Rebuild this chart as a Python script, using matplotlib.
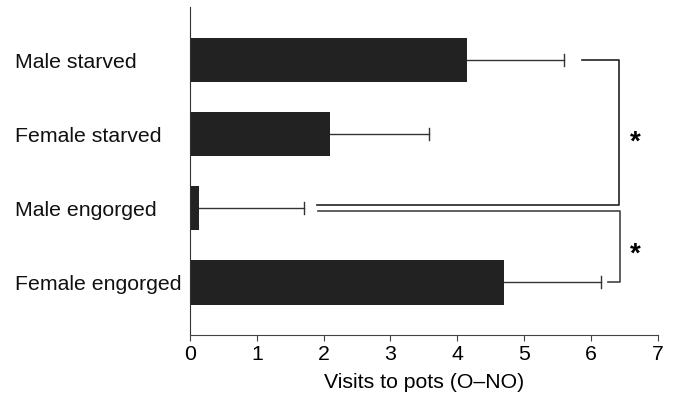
import matplotlib
matplotlib.use("Agg")
import matplotlib.pyplot as plt
import matplotlib.transforms as mtransforms

plt.rcParams['font.family'] = ['Liberation Sans', 'DejaVu Sans']

# data
categorias = ["Male starved", "Female starved", "Male engorged", "Female engorged"]
medias = [4.15, 2.09, 0.13, 4.70]
errores = [1.45, 1.49, 1.57, 1.45]

fig = plt.figure(figsize=(6.73, 3.96), dpi=100)
ax = fig.add_axes([0.2823, 0.154, 0.695, 0.828])

pos = list(range(len(categorias)))
ax.barh(pos, medias, height=0.6, color="#222222")
for p, m, e in zip(pos, medias, errores):
    ax.plot([m, m + e], [p, p], color="#333333", lw=1)
    ax.plot([m + e, m + e], [p - 0.08, p + 0.08], color="#333333", lw=1)

# brackets de significancia
ax.plot([5.87, 6.42, 6.42, 1.90], [0, 0, 1.96, 1.96], color="#222222", lw=1.2)
ax.plot([1.92, 6.43, 6.43, 6.26], [2.04, 2.04, 3, 3], color="#444444", lw=1.2)
ax.text(6.67, 1.12, "*", fontsize=20, ha="center", va="center", fontweight="bold")
ax.text(6.67, 2.62, "*", fontsize=20, ha="center", va="center", fontweight="bold")

ax.set_ylim(3.71, -0.71)
ax.set_xlim(0, 7)
ax.set_yticks(pos)
ax.set_yticklabels([])
ax.tick_params(axis="y", length=0)
trans = mtransforms.blended_transform_factory(ax.transAxes, ax.transData)
for p, nombre in zip(pos, categorias):
    ax.text(-0.374, p + 0.03, nombre, transform=trans, fontsize=15.3, ha="left",
            va="center", color="#111111")

ax.set_xticks(range(8))
ax.tick_params(axis="x", labelsize=15.3, length=4, color="#444444", pad=3)
ax.set_xlabel("Visits to pots (O\u2013NO)", fontsize=15.3, labelpad=7)
for lado in ["top", "right"]:
    ax.spines[lado].set_visible(False)
ax.spines["left"].set_color("#333333")
ax.spines["bottom"].set_color("#444444")

fig.savefig("out.png", dpi=100)
